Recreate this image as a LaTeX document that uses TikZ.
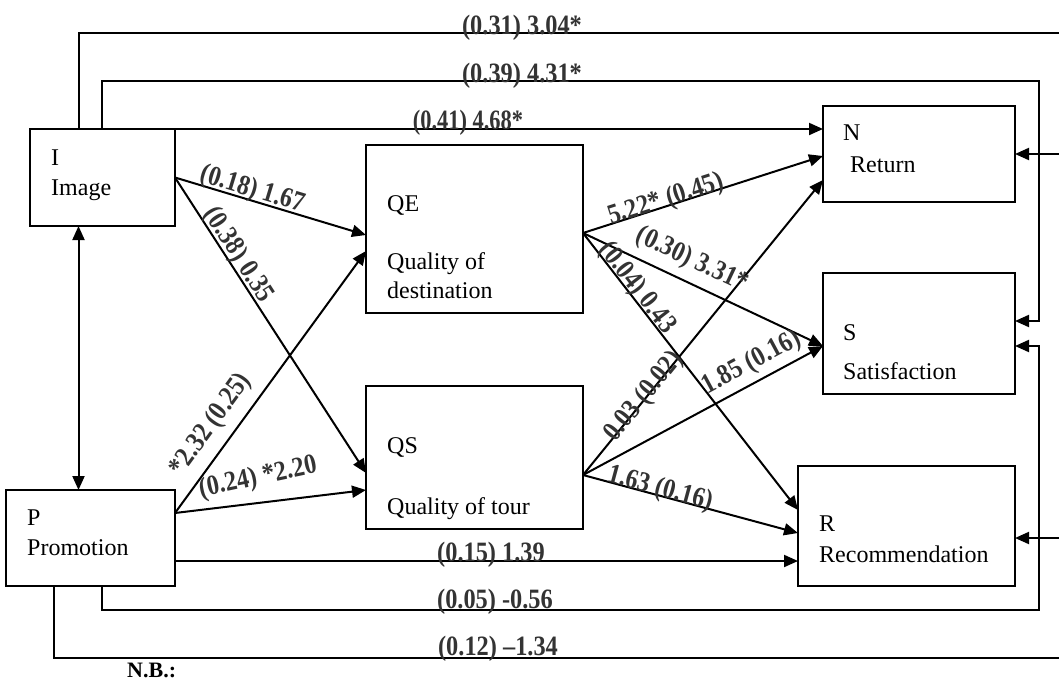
\documentclass[tikz,border=0pt]{standalone}
\usepackage{fontspec}
\setmainfont{Liberation Serif}
\newfontfamily\lblfont[FakeStretch=0.87]{Liberation Serif Bold}
\usetikzlibrary{arrows.meta,calc}
\begin{document}
\begin{tikzpicture}[x=1pt,y=-1pt,
  box/.style={draw, line width=2pt, outer sep=0pt, inner sep=0pt},
  conn/.style={line width=2pt, -{Triangle[length=14pt,width=12pt]}},
  dconn/.style={line width=2pt, {Triangle[length=14pt,width=12pt]}-{Triangle[length=14pt,width=12pt]}},
  tx/.style={anchor=base west, inner sep=0pt, font=\fontsize{24}{28}\selectfont},
  lbl/.style={inner sep=0pt, text=black!80, font=\lblfont\fontsize{28}{30}\selectfont}]
\useasboundingbox (0,0) rectangle (1059,680);
\fill[white] (0,0) rectangle (1059,680);
\clip (0,0) rectangle (1059,680);

% boxes
\node[box, minimum width=145pt, minimum height=97pt] (I) at (102.5,177.5) {};
\node[box, minimum width=169pt, minimum height=96pt] (P) at (90.5,538) {};
\node[box, minimum width=217pt, minimum height=168pt] (QE) at (474.5,229) {};
\node[box, minimum width=217pt, minimum height=143pt] (QS) at (474.5,457.5) {};
\node[box, minimum width=192pt, minimum height=96pt] (N) at (919,154) {};
\node[box, minimum width=192pt, minimum height=121pt] (S) at (919,333.5) {};
\node[box, minimum width=217pt, minimum height=120pt] (R) at (906.5,526) {};

% box texts
\node[tx] (Ia) at (51,165) {I};
\node[tx] (Ib) at (51,195) {Image};
\node[tx] (Pa) at (27,525) {P};
\node[tx] (Pb) at (27,555) {Promotion};
\node[tx] (QEa) at (387,211) {QE};
\node[tx] (QEb) at (387,269) {Quality of};
\node[tx] (QEc) at (387,298) {destination};
\node[tx] (QSa) at (387,453) {QS};
\node[tx] (QSb) at (387,514) {Quality of tour};
\node[tx] (Na) at (843,140) {N};
\node[tx] (Nb) at (850,172) {Return};
\node[tx] (Sa) at (843,340) {S};
\node[tx] (Sb) at (843,379) {Satisfaction};
\node[tx] (Ra) at (819,531) {R};
\node[tx] (Rb) at (819,562) {Recommendation};

% loop corner coordinates
\coordinate (o1) at (1075,33);
\coordinate (i1) at (1039,81);
\coordinate (i2) at (1039,610);
\coordinate (o2) at (1075,658);

% connectors
\draw[conn] (I.east) -- ([yshift=-6pt]QE.west);
\draw[conn] (I.east) -- ([yshift=-15.5pt]QS.west);
\draw[conn] ([yshift=25pt]P.east) -- ([yshift=-22pt]QE.west);
\draw[conn] ([yshift=25pt]P.east) -- ([yshift=-32.5pt]QS.west);
\draw[conn] ([yshift=-23pt]P.east) -- ([yshift=-35pt]R.west);
\draw[conn] (I.north east) -- (I.north east -| N.west);
\draw[conn] ([yshift=-4pt]QE.east) -- ([yshift=-2pt]N.west);
\draw[conn] ([yshift=-4pt]QE.east) -- ([yshift=-12.5pt]S.west);
\draw[conn] ([yshift=-4pt]QE.east) -- ([yshift=16pt]R.west);
\draw[conn] ([yshift=-17.5pt]QS.east) -- ([yshift=-26pt]N.west);
\draw[conn] ([yshift=-17.5pt]QS.east) -- ([yshift=-12.5pt]S.west);
\draw[conn] ([yshift=-17.5pt]QS.east) -- ([yshift=-7pt]R.west);
\draw[dconn] ([xshift=48.5pt]I.south west) -- ([xshift=72.5pt]P.north west);
\draw[conn] ([xshift=48.5pt]I.north west) |- (o1) |- (N.east);
\draw[conn] ([xshift=72pt]I.north west) |- (i1) |- ([yshift=12.5pt]S.east);
\draw[conn] ([xshift=96pt]P.south west) |- (i2) |- ([yshift=-12.5pt]S.east);
\draw[conn] ([xshift=48pt]P.south west) |- (o2) |- ([yshift=-12pt]R.east);

% horizontal labels
\node[lbl, anchor=base] (h1) at (522,34) {(0.31) 3.04*};
\node[lbl, anchor=base] (h2) at (522,82) {(0.39) 4.31*};
\node[lbl, anchor=base, xscale=0.92] (h3) at (468,129) {(0.41) 4.68*};
\node[lbl, anchor=base] (h4) at (491,561) {(0.15) 1.39};
\node[lbl, anchor=base] (h5) at (495,608) {(0.05) -0.56};
\node[lbl, anchor=base] (h6) at (498,655) {(0.12) –1.34};

% sloped labels
\node[lbl, rotate=-16.9] (l1) at (252,190) {(0.18) 1.67};
\node[lbl, rotate=-57.2] (l2) at (238,255) {(0.38) 0.35};
\node[lbl, rotate=53.9] (l3) at (211,425) {*2.32 (0.25)};
\node[lbl, rotate=12] (l4) at (258,478) {(0.24) *2.20};
\node[lbl, rotate=17.8] (l5) at (666,200) {5.22* (0.45)};
\node[lbl, rotate=-25.2] (l6) at (692,260) {(0.30) 3.31*};
\node[lbl, rotate=-52.2] (l7) at (637,288) {(0.04) 0.43};
\node[lbl, rotate=50.9] (l8) at (644,397) {0.03 (0.02)};
\node[lbl, rotate=28.3] (l9) at (752,363) {1.85 (0.16)};
\node[lbl, rotate=-15.1] (l10) at (660,489) {1.63 (0.16)};

\node[anchor=base west, inner sep=0pt, font=\bfseries\fontsize{22}{24}\selectfont] (nb) at (127,677) {N.B.:};
\end{tikzpicture}
\end{document}
